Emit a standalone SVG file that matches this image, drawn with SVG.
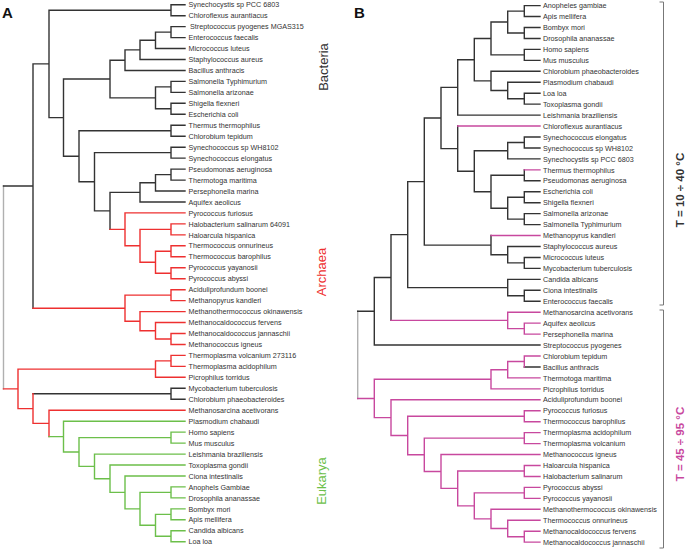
<svg xmlns="http://www.w3.org/2000/svg" width="685" height="550" viewBox="0 0 685 550">
<style>
.bg{fill:#fff}
path{fill:none;stroke-width:1.4;stroke-linecap:square}
.k{stroke:#333}
.r{stroke:#ee3030}
.g{stroke:#6cbf4a}
.m{stroke:#c8489e}
.gy{stroke:#b0b0b0}
.br{stroke:#777;stroke-width:1;stroke-linecap:butt}
text{font-family:"Liberation Sans",Arial,sans-serif}
.t{font-size:7.2px;fill:#333}
.lb{font-size:15px;font-weight:bold;fill:#111}
.cl{font-size:13px}
.tl{font-size:11.5px;font-weight:bold}
</style>
<rect class="bg" width="685" height="550"/>
<g id="connectors">
<path class="gy" d="M3.5,186.05V388.85"/>
<path class="k" d="M171,4.7V15.7M171,26.6V37.6M155.5,32.1V48.5M140,40.3V59.5M125,49.9V70.5M171,81.4V92.4M171,103.3V114.3M155.5,86.9V108.8M110,60.2V97.85M171,125.3V136.2M171,147.2V158.1M171,169.1V180.1M155.5,174.6V191M140,182.8V202M110,192.4V229.35M94.5,152.65V210.9M79,130.75V181.8M63.5,79V156.3M49,10.2V117.65M33,63.9V308.2M171,388.3V399.3
M171,4.7H185M171,15.7H185M171,26.6H185M171,37.6H185M155.5,48.5H185M140,59.5H185M125,70.5H185M171,81.4H185M171,92.4H185M171,103.3H185M171,114.3H185M171,125.3H185M171,136.2H185M171,147.2H185M171,158.1H185M171,169.1H185M171,180.1H185M155.5,191H185M140,202H185M171,388.3H185M171,399.3H185
M155.5,32.1H171M140,40.3H155.5M125,49.9H140M110,60.2H125M155.5,86.9H171M155.5,108.8H171M110,97.85H155.5M63.5,79H110M79,130.75H171M94.5,152.65H171M155.5,174.6H171M140,182.8H155.5M110,192.4H140M94.5,210.9H110M79,181.8H94.5M63.5,156.3H79M49,117.65H63.5M49,10.2H171M33,63.9H49M3.5,186.05H33M33,393.8H171"/>
<path class="r" d="M171,223.9V234.9M171,245.8V256.8M171,267.7V278.7M155.5,251.3V273.2M140,229.4V262.25M125,212.9V245.8M171,289.7V300.6M171,333.5V344.5M155.5,322.5V339M140,311.6V330.75M125,295.15V321.2M171,355.4V366.4M155.5,360.9V377.3M49,410.2V436.6M33,393.8V423.4M18,369.1V408.6
M125,212.9H185M171,223.9H185M171,234.9H185M171,245.8H185M171,256.8H185M171,267.7H185M171,278.7H185M171,289.7H185M171,300.6H185M140,311.6H185M155.5,322.5H185M171,333.5H185M171,344.5H185M171,355.4H185M171,366.4H185M155.5,377.3H185M49,410.2H185
M140,229.4H171M155.5,251.3H171M155.5,273.2H171M140,262.25H155.5M125,245.8H140M110,229.35H125M125,295.15H171M155.5,339H171M140,330.75H155.5M125,321.2H140M33,308.2H125M155.5,360.9H171M18,369.1H155.5M33,423.4H49M18,408.6H33M3.5,388.85H18"/>
<path class="g" d="M171,432.1V443.1M171,486.9V497.9M171,508.9V519.8M171,530.8V541.7M155.5,514.35V536.25M140,492.4V525.3M125,476V508.85M110,465V492.4M94.5,454.1V478.7M79,437.6V466.4M63.5,421.2V452
M63.5,421.2H185M171,432.1H185M171,443.1H185M94.5,454.1H185M110,465H185M125,476H185M171,486.9H185M171,497.9H185M171,508.9H185M171,519.8H185M171,530.8H185M171,541.7H185
M79,437.6H171M140,492.4H171M155.5,514.35H171M155.5,536.25H171M140,525.3H155.5M125,508.85H140M110,492.4H125M94.5,478.7H110M79,466.4H94.5M63.5,452H79M49,436.6H63.5"/>
<path class="gy" d="M357.7,311.3V398.5"/>
<path class="k" d="M524.3,5.6V16.55M524.3,27.5V38.45M507.7,11.1V33M524.3,49.4V60.35M491,22.05V54.9M524.3,93.2V104.15M507.7,82.25V98.7M491,71.3V90.5M474.3,38.5V80.9M457.7,59.7V115.1M524.3,137V147.95M507.7,142.5V158.9M524.3,169.85V180.8M524.3,191.75V202.7M524.3,213.65V224.6M507.7,197.2V219.1M491,175.3V208.2M474.3,150.7V191.75M457.7,126.05V171.2M441,87.4V148.6M524.3,257.45V268.4M507.7,246.5V262.9M491,235.55V254.7M424.3,118V245.1M524.3,290.3V301.25M507.7,279.35V295.8M407.7,181.6V287.6M391,234.6V320.4M374.3,277.5V345.05
M524.3,5.6H540M524.3,16.55H540M524.3,27.5H540M524.3,38.45H540M524.3,49.4H540M524.3,60.35H540M491,71.3H540M507.7,82.25H540M524.3,93.2H540M524.3,104.15H540M457.7,115.1H540M524.3,137H540M524.3,147.95H540M507.7,158.9H540M524.3,180.8H540M524.3,191.75H540M524.3,202.7H540M524.3,213.65H540M524.3,224.6H540M507.7,246.5H540M524.3,257.45H540M524.3,268.4H540M507.7,279.35H540M524.3,290.3H540M524.3,301.25H540M374.3,345.05H540M524.3,366.95H540
M507.7,11.1H524.3M507.7,33H524.3M491,22.05H507.7M491,54.9H524.3M474.3,38.5H491M507.7,98.7H524.3M491,90.5H507.7M474.3,80.9H491M457.7,59.7H474.3M441,87.4H457.7M507.7,142.5H524.3M474.3,150.7H507.7M491,175.3H524.3M507.7,197.2H524.3M507.7,219.1H524.3M491,208.2H507.7M474.3,191.75H491M457.7,171.2H474.3M441,148.6H457.7M424.3,118H441M507.7,262.9H524.3M491,254.7H507.7M424.3,245.1H491M407.7,181.6H424.3M507.7,295.8H524.3M407.7,287.6H507.7M391,234.6H407.7M374.3,277.5H391M357.7,311.3H374.3"/>
<path class="m" d="M457.7,126.05H540M524.3,169.85H540M491,235.55H540M391,320.4H507.7M507.7,312.2H540M507.7,328.6H524.3M524.3,323.15H540M524.3,334.1H540M524.3,323.15V334.1M507.7,312.2V328.6
M524.3,356V366.95M507.7,361.5V377.9M491,369.7V388.85M524.3,410.75V421.7M524.3,432.65V443.6M524.3,465.5V476.45M524.3,487.4V498.35M524.3,531.2V542.15M507.7,520.25V536.7M491,509.3V528.5M474.3,492.9V518.9M457.7,471V505.9M441,454.55V488.4M424.3,438.1V471.5M407.7,416.2V454.8M391,399.8V435.5M374.3,379.3V417.6
M524.3,356H540M507.7,377.9H540M491,388.85H540M391,399.8H540M524.3,410.75H540M524.3,421.7H540M524.3,432.65H540M524.3,443.6H540M441,454.55H540M524.3,465.5H540M524.3,476.45H540M524.3,487.4H540M524.3,498.35H540M491,509.3H540M507.7,520.25H540M524.3,531.2H540M524.3,542.15H540
M507.7,361.5H524.3M491,369.7H507.7M374.3,379.3H491M407.7,416.2H524.3M424.3,438.1H524.3M457.7,471H524.3M474.3,492.9H524.3M507.7,536.7H524.3M491,528.5H507.7M474.3,518.9H491M457.7,505.9H474.3M441,488.4H457.7M424.3,471.5H441M407.7,454.8H424.3M391,435.5H407.7M374.3,417.6H391M357.7,398.5H374.3"/>
<path class="br" d="M659.5,2H663.5V305H659.5M659.5,310H663.5V548H659.5"/>
</g>
<g id="panel-labels">
<text class="lb" x="2" y="17.5">A</text>
<text class="lb" x="354" y="17.5">B</text>
</g>
<g id="tree-a-leaves" class="t">
<g id="a1"><text x="188.5" y="7.3">Synechocystis sp PCC 6803</text></g>
<g id="a2"><text x="188.5" y="18.3">Chloroflexus aurantiacus</text></g>
<g id="a3"><text x="190" y="29.2">Streptococcus pyogenes MGAS315</text></g>
<g id="a4"><text x="188.5" y="40.2">Enterococcus faecalis</text></g>
<g id="a5"><text x="188.5" y="51.1">Micrococcus luteus</text></g>
<g id="a6"><text x="188.5" y="62.1">Staphylococcus aureus</text></g>
<g id="a7"><text x="188.5" y="73.1">Bacillus anthracis</text></g>
<g id="a8"><text x="188.5" y="84">Salmonella Typhimurium</text></g>
<g id="a9"><text x="188.5" y="95">Salmonella arizonae</text></g>
<g id="a10"><text x="188.5" y="105.9">Shigella flexneri</text></g>
<g id="a11"><text x="188.5" y="116.9">Escherichia coli</text></g>
<g id="a12"><text x="188.5" y="127.9">Thermus thermophilus</text></g>
<g id="a13"><text x="188.5" y="138.8">Chlorobium tepidum</text></g>
<g id="a14"><text x="188.5" y="149.8">Synechococcus sp WH8102</text></g>
<g id="a15"><text x="188.5" y="160.7">Synechococcus elongatus</text></g>
<g id="a16"><text x="188.5" y="171.7">Pseudomonas aeruginosa</text></g>
<g id="a17"><text x="188.5" y="182.7">Thermotoga maritima</text></g>
<g id="a18"><text x="188.5" y="193.6">Persephonella marina</text></g>
<g id="a19"><text x="188.5" y="204.6">Aquifex aeolicus</text></g>
<g id="a20"><text x="188.5" y="215.5">Pyrococcus furiosus</text></g>
<g id="a21"><text x="188.5" y="226.5">Halobacterium salinarum 64091</text></g>
<g id="a22"><text x="188.5" y="237.5">Haloarcula hispanica</text></g>
<g id="a23"><text x="188.5" y="248.4">Thermococcus onnurineus</text></g>
<g id="a24"><text x="188.5" y="259.4">Thermococcus barophilus</text></g>
<g id="a25"><text x="188.5" y="270.3">Pyrococcus yayanosii</text></g>
<g id="a26"><text x="188.5" y="281.3">Pyrococcus abyssi</text></g>
<g id="a27"><text x="188.5" y="292.3">Aciduliprofundum boonei</text></g>
<g id="a28"><text x="188.5" y="303.2">Methanopyrus kandleri</text></g>
<g id="a29"><text x="188.5" y="314.2">Methanothermococcus okinawensis</text></g>
<g id="a30"><text x="188.5" y="325.1">Methanocaldococcus fervens</text></g>
<g id="a31"><text x="188.5" y="336.1">Methanocaldococcus jannaschii</text></g>
<g id="a32"><text x="188.5" y="347.1">Methanococcus igneus</text></g>
<g id="a33"><text x="188.5" y="358">Thermoplasma volcanium 273116</text></g>
<g id="a34"><text x="188.5" y="369">Thermoplasma acidophilum</text></g>
<g id="a35"><text x="188.5" y="379.9">Picrophilus torridus</text></g>
<g id="a36"><text x="188.5" y="390.9">Mycobacterium tuberculosis</text></g>
<g id="a37"><text x="188.5" y="401.9">Chlorobium phaeobacteroides</text></g>
<g id="a38"><text x="188.5" y="412.8">Methanosarcina acetivorans</text></g>
<g id="a39"><text x="188.5" y="423.8">Plasmodium chabaudi</text></g>
<g id="a40"><text x="188.5" y="434.7">Homo sapiens</text></g>
<g id="a41"><text x="188.5" y="445.7">Mus musculus</text></g>
<g id="a42"><text x="188.5" y="456.7">Leishmania braziliensis</text></g>
<g id="a43"><text x="188.5" y="467.6">Toxoplasma gondii</text></g>
<g id="a44"><text x="188.5" y="478.6">Ciona intestinalis</text></g>
<g id="a45"><text x="188.5" y="489.5">Anophels Gambiae</text></g>
<g id="a46"><text x="188.5" y="500.5">Drosophila ananassae</text></g>
<g id="a47"><text x="188.5" y="511.5">Bombyx mori</text></g>
<g id="a48"><text x="188.5" y="522.4">Apis mellifera</text></g>
<g id="a49"><text x="188.5" y="533.4">Candida albicans</text></g>
<g id="a50"><text x="188.5" y="544.3">Loa loa</text></g>
</g>
<g id="tree-b-leaves" class="t">
<g id="b1"><text x="543" y="8.2">Anopheles gambiae</text></g>
<g id="b2"><text x="543" y="19.2">Apis mellifera</text></g>
<g id="b3"><text x="543" y="30.1">Bombyx mori</text></g>
<g id="b4"><text x="543" y="41.1">Drosophila ananassae</text></g>
<g id="b5"><text x="543" y="52">Homo sapiens</text></g>
<g id="b6"><text x="543" y="63">Mus musculus</text></g>
<g id="b7"><text x="543" y="73.9">Chlorobium phaeobacteroides</text></g>
<g id="b8"><text x="543" y="84.9">Plasmodium chabaudi</text></g>
<g id="b9"><text x="543" y="95.8">Loa loa</text></g>
<g id="b10"><text x="543" y="106.8">Toxoplasma gondii</text></g>
<g id="b11"><text x="543" y="117.7">Leishmania braziliensis</text></g>
<g id="b12"><text x="543" y="128.7">Chloroflexus aurantiacus</text></g>
<g id="b13"><text x="543" y="139.6">Synechococcus elongatus</text></g>
<g id="b14"><text x="543" y="150.6">Synechococcus sp WH8102</text></g>
<g id="b15"><text x="543" y="161.5">Synechocystis sp PCC 6803</text></g>
<g id="b16"><text x="543" y="172.5">Thermus thermophilus</text></g>
<g id="b17"><text x="543" y="183.4">Pseudomonas aeruginosa</text></g>
<g id="b18"><text x="543" y="194.4">Escherichia coli</text></g>
<g id="b19"><text x="543" y="205.3">Shigella flexneri</text></g>
<g id="b20"><text x="543" y="216.3">Salmonella arizonae</text></g>
<g id="b21"><text x="543" y="227.2">Salmonella Typhimurium</text></g>
<g id="b22"><text x="543" y="238.2">Methanopyrus kandleri</text></g>
<g id="b23"><text x="543" y="249.1">Staphylococcus aureus</text></g>
<g id="b24"><text x="543" y="260.1">Micrococcus luteus</text></g>
<g id="b25"><text x="543" y="271">Mycobacterium tuberculosis</text></g>
<g id="b26"><text x="543" y="282">Candida albicans</text></g>
<g id="b27"><text x="543" y="292.9">Ciona intestinalis</text></g>
<g id="b28"><text x="543" y="303.9">Enterococcus faecalis</text></g>
<g id="b29"><text x="543" y="314.8">Methanosarcina acetivorans</text></g>
<g id="b30"><text x="543" y="325.8">Aquifex aeolicus</text></g>
<g id="b31"><text x="543" y="336.7">Persephonella marina</text></g>
<g id="b32"><text x="543" y="347.7">Streptococcus pyogenes</text></g>
<g id="b33"><text x="543" y="358.6">Chlorobium tepidum</text></g>
<g id="b34"><text x="543" y="369.6">Bacillus anthracis</text></g>
<g id="b35"><text x="543" y="380.5">Thermotoga maritima</text></g>
<g id="b36"><text x="543" y="391.5">Picrophilus torridus</text></g>
<g id="b37"><text x="543" y="402.4">Aciduliprofundum boonei</text></g>
<g id="b38"><text x="543" y="413.4">Pyrococcus furiosus</text></g>
<g id="b39"><text x="543" y="424.3">Thermococcus barophilus</text></g>
<g id="b40"><text x="543" y="435.3">Thermoplasma acidophilum</text></g>
<g id="b41"><text x="543" y="446.2">Thermoplasma volcanium</text></g>
<g id="b42"><text x="543" y="457.2">Methanococcus igneus</text></g>
<g id="b43"><text x="543" y="468.1">Haloarcula hispanica</text></g>
<g id="b44"><text x="543" y="479.1">Halobacterium salinarum</text></g>
<g id="b45"><text x="543" y="490">Pyrococcus abyssi</text></g>
<g id="b46"><text x="543" y="501">Pyrococcus yayanosii</text></g>
<g id="b47"><text x="543" y="511.9">Methanothermococcus okinawensis</text></g>
<g id="b48"><text x="543" y="522.9">Thermococcus onnurineus</text></g>
<g id="b49"><text x="543" y="533.8">Methanocaldococcus fervens</text></g>
<g id="b50"><text x="543" y="544.8">Methanocaldococcus jannaschii</text></g>
</g>
<g id="clade-labels">
<text class="cl" fill="#333" text-anchor="middle" transform="translate(327.5,67) rotate(-90)">Bacteria</text>
<text class="cl" fill="#ee3030" text-anchor="middle" transform="translate(325.5,272) rotate(-90)">Archaea</text>
<text class="cl" fill="#6cbf4a" text-anchor="middle" transform="translate(325.5,481) rotate(-90)">Eukarya</text>
<text class="tl" fill="#333" text-anchor="middle" transform="translate(683.5,190) rotate(-90)">T = 10 ÷ 40 °C</text>
<text class="tl" fill="#c8489e" text-anchor="middle" transform="translate(683.5,444) rotate(-90)">T = 45 ÷ 95 °C</text>
</g>
</svg>
